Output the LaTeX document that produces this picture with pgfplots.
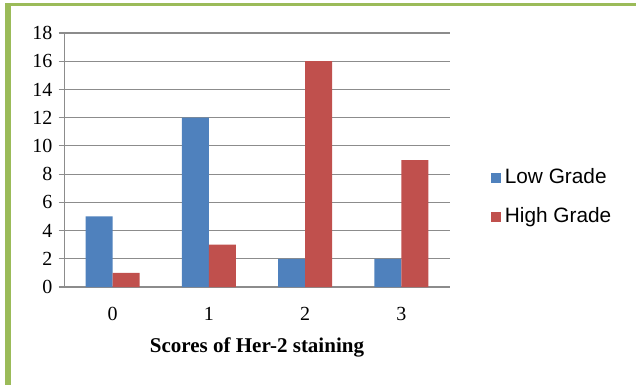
\documentclass[border=0pt]{standalone}
\usepackage{pgfplots}
\pgfplotsset{compat=1.18}
\usepackage{fontspec}
\setmainfont{Liberation Serif}
\setsansfont{Liberation Sans}
\definecolor{frameg}{HTML}{9BBB59}
\definecolor{lowc}{HTML}{4F81BD}
\definecolor{highc}{HTML}{C0504D}
\definecolor{gridc}{HTML}{8C8C8C}
\begin{document}
\begin{tikzpicture}[x=1pt,y=1pt]
\path[use as bounding box] (0,0) rectangle (636,-385);
\fill[frameg] (5,-3) rectangle (636,-6.3);
\fill[frameg] (5,-3) rectangle (10.5,-385);
\begin{axis}[
  at={(64.5pt,-287pt)}, anchor=south west,
  scale only axis, width=385pt, height=254pt,
  xmin=-0.5, xmax=3.5, ymin=0, ymax=18,
  xtick={0,1,2,3}, ytick={0,2,...,18},
  ybar=0pt, bar width=27pt,
  axis x line*=bottom, axis y line*=left,
  axis line style={draw=gridc, line width=1.2pt, -},
  ymajorgrids, grid style={draw=gridc, line width=1.2pt},
  tick align=outside, major tick length=6pt,
  xtick style={draw=none},
  ytick style={draw=gridc, line width=1.2pt},
  /pgf/number format/assume math mode=true,
  tick label style={font=\fontsize{20}{24}\selectfont, inner sep=0pt},
  yticklabel style={xshift=-6pt},
  xticklabel style={yshift=-14pt},
  xlabel={\textbf{Scores of Her-2 staining}},
  xlabel style={font=\fontsize{21}{25}\selectfont, inner sep=0pt, yshift=-17pt},
  legend style={at={(1.107,0.4646)}, anchor=north west, draw=none, fill=none,
    font=\sffamily\fontsize{20.8}{24}\selectfont, row sep=21pt, inner sep=0pt,
    nodes={inner sep=0pt, text height=14pt, text depth=4pt}},
  legend cell align=left,
  legend image code/.code={\fill[#1] (0pt,-5pt) rectangle (10.5pt,5.5pt);},
]
\addplot[fill=lowc, draw=none] coordinates {(0,5) (1,12) (2,2) (3,2)};
\addplot[fill=highc, draw=none] coordinates {(0,1) (1,3) (2,16) (3,9)};
\legend{\,Low Grade, \,High Grade}
\end{axis}
\end{tikzpicture}
\end{document}
